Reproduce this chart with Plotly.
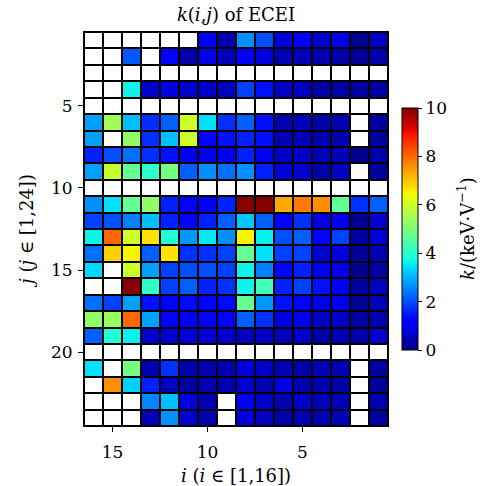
import numpy as np
import plotly.graph_objects as go

# Channel indices: radial i (columns, drawn 16 -> 1) and poloidal j (rows, 1 -> 24)
i_vals = list(range(16, 0, -1))
j_vals = list(range(1, 25))

N = None  # missing channel
# k(i, j) in keV/V, one list per row j, ordered i = 16 ... 1
k_j01 = [N, N, N, N, N, N, 1.20, 0.42, 2.66, 2.03, 0.83, 1.15, 0.69, 0.90, 0.14, 0.63]
k_j02 = [N, N, 2.10, N, 1.20, 0.35, 0.90, 0.49, 1.20, 0.83, 0.42, 0.49, 0.42, 0.35, 0.21, 0.35]
k_j03 = [N] * 16
k_j04 = [N, N, 3.65, 0.63, 0.83, 0.69, 0.63, 0.56, 1.88, 1.41, 0.56, 0.56, 0.35, 0.35, 0.28, 0.28]
k_j05 = [N] * 16
k_j06 = [2.82, 5.45, 3.13, 1.72, 2.19, 6.00, 3.45, 1.72, 2.19, 1.41, 0.42, 0.49, 0.35, 0.42, N, 0.28]
k_j07 = [2.82, N, 5.25, 1.72, 3.13, 6.00, 1.20, 1.41, 1.56, 1.41, 0.49, 0.49, 0.42, 0.42, N, 0.28]
k_j08 = [1.56, 2.03, 2.35, 1.72, 1.41, 0.97, 0.90, 0.97, 1.56, 0.97, 0.56, 0.63, 0.49, 0.49, 0.14, 0.35]
k_j09 = [2.82, 5.90, 4.70, 4.05, 4.90, 2.19, 2.66, 2.35, 2.66, 1.56, 0.76, 0.69, 0.35, 0.56, N, 0.28]
k_j10 = [N] * 16
k_j11 = [2.66, 3.45, 4.70, 5.25, 1.56, 1.20, 1.20, 1.56, 9.95, 9.95, 7.30, 7.80, 7.60, 4.70, 1.72, 2.19]
k_j12 = [1.88, 2.03, 2.50, 3.13, 1.56, 1.20, 1.56, 2.19, 3.21, 2.19, 1.20, 1.72, 0.83, 0.97, 0.14, 0.69]
k_j13 = [3.65, 8.00, 6.00, 6.70, 3.90, 2.74, 3.53, 2.66, 6.50, 3.60, 2.03, 2.19, 1.20, 1.88, 0.28, 0.76]
k_j14 = [2.35, 6.90, 6.50, 2.19, 6.70, 1.72, 1.72, 1.88, 4.70, 3.45, 1.88, 1.88, 0.69, 0.76, 0.21, 0.42]
k_j15 = [3.37, N, 6.00, 2.82, 1.88, 2.03, 2.03, 1.88, 3.65, 2.50, 1.20, 1.56, 0.97, 0.90, 0.14, 0.35]
k_j16 = [N, N, 9.95, 4.05, 1.88, 2.19, 1.56, 1.72, 3.65, 4.30, 1.56, 1.88, 1.41, 1.04, 0.28, 0.56]
k_j17 = [2.35, 1.88, 2.82, 1.41, 1.20, 1.33, 1.20, 1.33, 4.70, 2.74, 1.41, 1.20, 0.90, 0.97, 0.21, 0.49]
k_j18 = [5.25, 5.35, 8.00, 2.82, 1.20, 1.04, 1.20, 1.20, 2.19, 1.72, 0.83, 0.97, 0.56, 0.63, 0.28, 0.42]
k_j19 = [2.19, 3.90, 3.60, 0.69, 0.69, 0.76, 0.69, 0.69, 0.56, 0.63, 0.49, 0.63, 0.35, 0.42, 0.35, 0.69]
k_j20 = [N] * 16
k_j21 = [3.45, N, 4.90, 0.42, 1.72, 0.42, 0.42, 0.42, 0.83, 0.63, 0.42, 0.35, 0.49, 0.42, N, 0.28]
k_j22 = [N, 7.60, 3.29, 1.56, 0.56, 0.28, 0.42, 0.42, 0.69, 0.42, 0.83, 0.42, 0.42, 0.35, N, 0.21]
k_j23 = [N, N, N, 2.58, 3.13, 0.83, 0.42, N, 1.04, 0.63, 0.42, 0.63, 0.49, 0.49, N, 0.42]
k_j24 = [N, N, N, 0.49, 2.66, 0.69, 0.42, N, 0.83, 0.56, 0.35, 0.42, 0.42, 0.49, N, 0.28]

x_ticks = [15, 10, 5]
y_ticks = [5, 10, 15, 20]
cb_ticks = [0, 2, 4, 6, 8, 10]

rows = [k_j01, k_j02, k_j03, k_j04, k_j05, k_j06, k_j07, k_j08, k_j09, k_j10, k_j11, k_j12,
        k_j13, k_j14, k_j15, k_j16, k_j17, k_j18, k_j19, k_j20, k_j21, k_j22, k_j23, k_j24]
z = np.array([[np.nan if v is None else v for v in r] for r in rows], dtype=float)

# matplotlib-style "jet" colour map
jet = [
    [0.000, "rgb(0,0,128)"],
    [0.110, "rgb(0,0,255)"],
    [0.125, "rgb(0,0,255)"],
    [0.340, "rgb(0,219,255)"],
    [0.350, "rgb(0,230,247)"],
    [0.375, "rgb(21,255,226)"],
    [0.640, "rgb(238,255,8)"],
    [0.650, "rgb(247,246,0)"],
    [0.660, "rgb(255,236,0)"],
    [0.890, "rgb(255,19,0)"],
    [0.910, "rgb(232,0,0)"],
    [1.000, "rgb(128,0,0)"],
]

FONT = "DejaVu Serif"
GAP = 2
TICK = dict(family=FONT, size=17, color="black")
LABEL = dict(family=FONT, size=18, color="black")

fig = go.Figure()
# white base so missing channels show as empty boxes inside the black grid
fig.add_trace(go.Heatmap(
    x=i_vals, y=j_vals, z=np.zeros_like(z),
    colorscale=[[0, "white"], [1, "white"]], showscale=False,
    xgap=GAP, ygap=GAP, hoverinfo="skip",
))
fig.add_trace(go.Heatmap(
    x=i_vals, y=j_vals, z=z, zmin=0, zmax=10, colorscale=jet,
    xgap=GAP, ygap=GAP,
    colorbar=dict(
        x=1.046, xanchor="left", xpad=0, y=0.5, yanchor="middle", ypad=0,
        len=242, lenmode="pixels", thickness=16,
        outlinewidth=1, outlinecolor="black",
        tickvals=cb_ticks, ticks="outside", ticklen=4, tickcolor="black",
        tickfont=TICK,
    ),
))

axis_common = dict(
    showgrid=False, zeroline=False, showline=True, mirror=True,
    linecolor="black", linewidth=1, ticks="outside", ticklen=5,
    tickcolor="black", tickfont=TICK, automargin=False,
)

fig.update_layout(
    width=481, height=486,
    margin=dict(l=84, r=93, t=32, b=60, autoexpand=False),
    paper_bgcolor="white", plot_bgcolor="black",
    font=TICK,
    title=dict(text="<i>k</i>(<i>i</i>,<i>j</i>) of ECEI", x=0.5, xref="paper",
               y=1 - 15 / 486, yanchor="middle", font=LABEL),
    xaxis=dict(range=[16.5, 0.5], tickvals=x_ticks, ticklabelstandoff=6,
               title=dict(text="<i>i</i> (<i>i</i> ∈ [1,16])", standoff=11, font=LABEL),
               **axis_common),
    yaxis=dict(range=[24.5, 0.5], tickvals=y_ticks, ticklabelstandoff=2,
               title=dict(text="<i>j</i> (<i>j</i> ∈ [1,24])", standoff=12, font=LABEL),
               **axis_common),
    annotations=[dict(
        text="<i>k</i>/(keV·V<sup>−1</sup>)", textangle=-90,
        xref="paper", yref="paper", x=(466 - 84) / 304, y=0.5,
        xanchor="center", yanchor="middle", showarrow=False, font=LABEL,
    )],
)

fig.write_html("out.html")
